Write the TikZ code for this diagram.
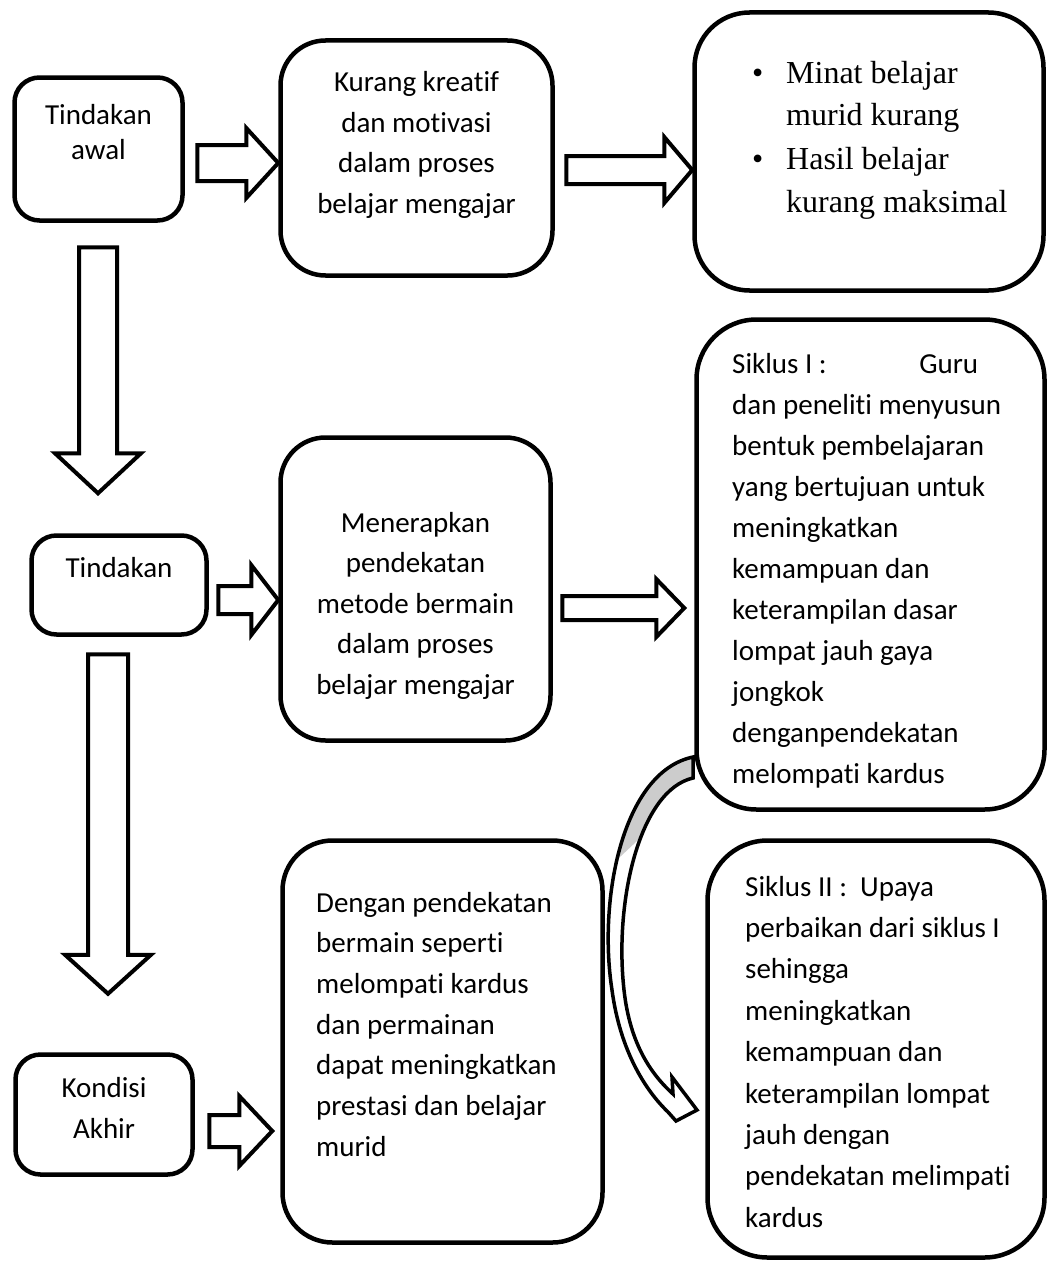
\documentclass[tikz,border=0pt]{standalone}
\usepackage{fontspec}
\setmainfont{Carlito}[Ligatures=NoCommon]
\newfontfamily\tnr{Liberation Serif}
\usetikzlibrary{positioning,calc}

% block arrows: tail point, tip point, shaft half, head half, head length
\newcommand\rblock[5]{\draw[blk] let \p1=#1, \p2=#2 in (\x1,\y1+#3) -- (\x2-#5,\y1+#3) -- (\x2-#5,\y1+#4) -- (\x2,\y1) -- (\x2-#5,\y1-#4) -- (\x2-#5,\y1-#3) -- (\x1,\y1-#3) -- cycle;}
\newcommand\dblock[5]{\draw[blk] let \p1=#1, \p2=#2 in (\x1-#3,\y1) -- (\x1-#3,\y2+#5) -- (\x1-#4,\y2+#5) -- (\x1,\y2) -- (\x1+#4,\y2+#5) -- (\x1+#3,\y2+#5) -- (\x1+#3,\y1) -- cycle;}

\tikzset{
  box/.style={draw=black,line width=4.5pt,rounded corners=#1,inner sep=0pt},
  box/.default=25pt,
  txt/.style={inner sep=0pt,text width=#1,align=flush center,anchor=base,font=\fontsize{29}{40.5}\selectfont},
  txtl/.style={inner sep=0pt,text width=#1,align=flush left,anchor=base west,font=\fontsize{29}{41}\selectfont},
  blk/.style={draw=black,line width=4pt,fill=white,line join=miter},
  ribbon/.style={draw=black,line width=3.5pt,line join=miter},
}

\begin{document}
\begin{tikzpicture}[x=1pt,y=-1pt]
      \useasboundingbox (0,0) rectangle (1048,1263);

      % boxes
      \node[box,minimum width=168,minimum height=143] (tawal) at (98.5,149) {};
      \node[box=45pt,minimum width=272,minimum height=235] (kurang) at (416.5,158) {};
      \node[box=55pt,minimum width=349,minimum height=278] (minat) at (869,151.5) {};
      \node[box,minimum width=175,minimum height=99] (tind) at (119,585) {};
      \node[box=45pt,minimum width=270,minimum height=303] (terap) at (415.5,589) {};
      \node[box=60pt,minimum width=348,minimum height=490] (siklus1) at (870.5,564.5) {};
      \node[box,minimum width=177,minimum height=120] (kondisi) at (104,1114.5) {};
      \node[box=50pt,minimum width=320,minimum height=402] (dengan) at (442.5,1041.5) {};
      \node[box=60pt,minimum width=337,minimum height=417] (siklus2) at (876,1049) {};

      % texts
      \node[txt=160pt,font=\fontsize{29}{35}\selectfont] (tawal-t) at (98.5,124) {Tindakan\\awal};
      \node[txt=260pt] (kurang-t) at (416.5,92) {Kurang kreatif\\dan motivasi\\dalam proses\\belajar mengajar};
      \node[inner sep=0pt,text width=290pt,align=flush left,anchor=base west,font=\tnr\fontsize{32}{43}\selectfont] (minat-t) at (752,83)
        {\makebox[34pt][l]{\textbullet}Minat belajar\\\hspace*{34pt}murid kurang\\\makebox[34pt][l]{\textbullet}Hasil belajar\\\hspace*{34pt}kurang maksimal};
      \node[txt=160pt] (tind-t) at (119,577) {Tindakan};
      \node[txt=260pt] (terap-t) at (415.5,532) {Menerapkan\\pendekatan\\metode bermain\\dalam proses\\belajar mengajar};
      \node[txtl=300pt] (siklus1-t) at (732,373) {\makebox[246pt][l]{Siklus I :\hfill Guru}\\dan peneliti menyusun\\bentuk pembelajaran\\yang bertujuan untuk\\meningkatkan\\kemampuan dan\\keterampilan dasar\\lompat jauh gaya\\jongkok\\denganpendekatan\\melompati kardus};
      \node[txt=160pt,font=\fontsize{29}{41}\selectfont] (kondisi-t) at (104,1097) {Kondisi\\Akhir};
      \node[txtl=280pt,font=\fontsize{29}{40.7}\selectfont] (dengan-t) at (316,912) {Dengan pendekatan\\bermain seperti\\melompati kardus\\dan permainan\\dapat meningkatkan\\prestasi dan belajar\\murid};
      \node[txtl=290pt,font=\fontsize{29}{41.4}\selectfont] (siklus2-t) at (745,896) {Siklus II :\ \ Upaya\\perbaikan dari siklus I\\sehingga\\meningkatkan\\kemampuan dan\\keterampilan lompat\\jauh dengan\\pendekatan melimpati\\kardus};

      % block arrows
      \rblock{($(tawal.east)+(12.5,14)$)}{(kurang.west)}{18}{35}{32}
      \rblock{($(kurang.east)+(11.5,12)$)}{(minat.west)}{14}{33}{28}
      \rblock{($(tind.east)+(9.5,15)$)}{(terap.west)}{14}{35}{27}
      \rblock{($(terap.east)+(9.5,19)$)}{($(siklus1.west)+(-10,0)$)}{12}{29}{28}
      \rblock{($(kondisi.east)+(14.5,16.5)$)}{($(dengan.west)+(-8,0)$)}{16}{35}{33}
      \dblock{($(tawal.south)+(-0.5,24.5)$)}{($(tind.north)+(0,-40)$)}{19}{43}{40}
      \dblock{($(tind.south)+(-11,17.5)$)}{($(kondisi.north)+(0,-58.5)$)}{20}{43}{39}

      % curved arrow siklus I -> siklus II
      \path[fill=white] (693,757) .. controls (622,772) and (598,900) .. (612,990) .. controls (620,1050) and (645,1090) .. (668,1112)
        -- (676,1121) -- (697,1110) -- (672,1077) -- (673,1094)
        .. controls (652,1075) and (630,1045) .. (624,990) .. controls (614,900) and (640,790) .. (693,778) -- cycle;
      \begin{scope}
        \clip (693,757) .. controls (622,772) and (598,900) .. (612,990) -- (624,990) .. controls (614,900) and (640,790) .. (693,778) -- cycle;
        \fill[black!20] (590,740) -- (700,740) -- (700,782) -- (590,885) -- cycle;
      \end{scope}
      \draw[ribbon] (693,757) .. controls (622,772) and (598,900) .. (612,990) .. controls (620,1050) and (645,1090) .. (668,1112)
        -- (676,1121) -- (697,1110) -- (672,1077) -- (673,1094)
        .. controls (652,1075) and (630,1045) .. (624,990) .. controls (614,900) and (640,790) .. (693,778) -- cycle;
\end{tikzpicture}
\end{document}
